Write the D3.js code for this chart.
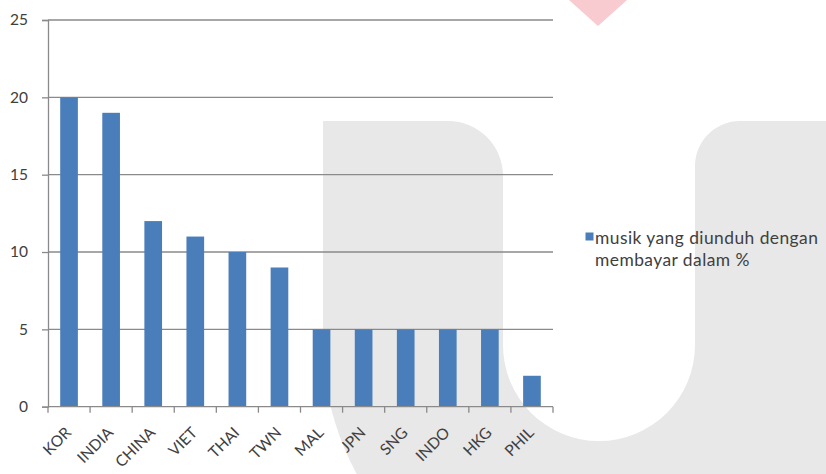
<!DOCTYPE html>
<html>
<head>
<meta charset="utf-8">
<script src="https://cdn.jsdelivr.net/npm/d3@7"></script>
<style>
  html, body { margin: 0; padding: 0; background: #ffffff; }
  svg { display: block; }
  text { font-family: Lato, "Open Sans", sans-serif; fill: #404040; }
</style>
</head>
<body>
<svg id="chart" width="826" height="474"></svg>
<script>
// Share of music downloads that were paid for, per country (%)
const categories = ["KOR", "INDIA", "CHINA", "VIET", "THAI", "TWN", "MAL", "JPN", "SNG", "INDO", "HKG", "PHIL"];
const values = [20, 19, 12, 11, 10, 9, 5, 5, 5, 5, 5, 2];
const yTicks = [0, 5, 10, 15, 20, 25];
const seriesName = ["musik yang diunduh dengan", "membayar dalam %"];

const svg = d3.select("#chart");

// Background emblem: a large light-grey "U" and a small pink triangle
const emblem = svg.append("g");
emblem.append("path")
  .attr("fill", "#e8e8e8")
  .attr("d", [
    "M323,121", "L448,121", "A55,55 0 0 1 503,176", "L503,345",
    "A96,96 0 0 0 695,345", "L695,166", "A45,45 0 0 1 740,121",
    "L873,121", "L873,342", "A275,275 0 0 1 323,342", "Z"
  ].join(" "));
emblem.append("path")
  .attr("fill", "#f7cbcf")
  .attr("d", "M569,0 L627,0 L598,26 Z");

// Plot area
const x0 = 48, x1 = 553, yTop = 20, yBottom = 406.7;

const x = d3.scaleBand()
  .domain(categories)
  .range([x0, x1])
  .paddingInner(0.58)
  .paddingOuter(0.29);

const y = d3.scaleLinear()
  .domain([0, 25])
  .range([yBottom, yTop]);

// Horizontal gridlines
svg.append("g")
  .selectAll("line")
  .data(yTicks.filter(d => d > 0))
  .join("line")
  .attr("x1", x0).attr("x2", x1)
  .attr("y1", d => y(d)).attr("y2", d => y(d))
  .attr("stroke", "#8a8a8a")
  .attr("stroke-width", 1.3);

// Bars
svg.append("g")
  .selectAll("rect")
  .data(categories.map((c, i) => ({ c, v: values[i] })))
  .join("rect")
  .attr("x", d => x(d.c))
  .attr("width", x.bandwidth())
  .attr("y", d => y(d.v))
  .attr("height", d => y(0) - y(d.v))
  .attr("fill", "#4a7ebb");

// Y axis
const yAxis = svg.append("g")
  .attr("transform", `translate(${x0},0)`)
  .call(d3.axisLeft(y).tickValues(yTicks).tickSize(6).tickPadding(14));
yAxis.select(".domain").attr("stroke", "#8a8a8a").attr("stroke-width", 1.3);
yAxis.selectAll(".tick line").attr("stroke", "#8a8a8a").attr("stroke-width", 1.3);
yAxis.selectAll(".tick text")
  .attr("font-size", 15.5)
  .attr("font-family", "Lato, sans-serif")
  .attr("fill", "#404040");

// X axis: tick marks on category boundaries
const step = x.step();
const bounds = d3.range(categories.length + 1).map(i => x0 + i * step);
svg.append("line")
  .attr("x1", x0).attr("x2", x1)
  .attr("y1", yBottom).attr("y2", yBottom)
  .attr("stroke", "#8a8a8a").attr("stroke-width", 1.3);
svg.append("g")
  .selectAll("line")
  .data(bounds)
  .join("line")
  .attr("x1", d => d).attr("x2", d => d)
  .attr("y1", yBottom).attr("y2", yBottom + 6)
  .attr("stroke", "#8a8a8a").attr("stroke-width", 1.3);

// Rotated category labels
svg.append("g")
  .selectAll("text")
  .data(categories)
  .join("text")
  .attr("transform", d => `translate(${x(d) + x.bandwidth() / 2 + 3},${yBottom + 27}) rotate(-45)`)
  .attr("text-anchor", "end")
  .attr("font-size", 15.5)
  .text(d => d);

// Legend
const legend = svg.append("g");
legend.append("rect")
  .attr("x", 585.5).attr("y", 232.5)
  .attr("width", 8).attr("height", 8)
  .attr("fill", "#4a7ebb");
legend.selectAll("text")
  .data(seriesName)
  .join("text")
  .attr("x", 595)
  .attr("y", (d, i) => 244 + i * 22)
  .attr("font-size", 17.4)
  .attr("letter-spacing", 0.45)
  .text(d => d);
</script>
</body>
</html>
